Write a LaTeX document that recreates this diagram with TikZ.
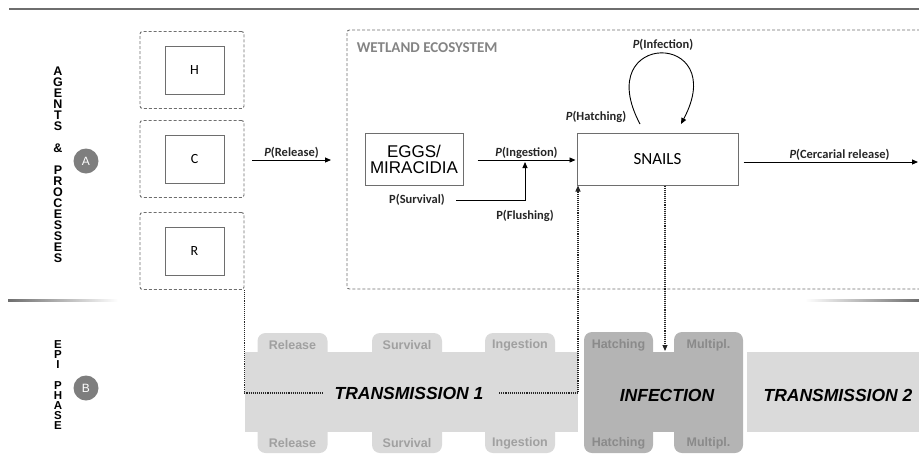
\documentclass[tikz,border=0pt]{standalone}
\usepackage{fontspec}
\setmainfont{Carlito}
\newfontfamily\arialf{Liberation Sans}
\usetikzlibrary{arrows.meta,positioning,calc}
\definecolor{lineg}{HTML}{6E6E6E}
\definecolor{bandg}{HTML}{DADADA}
\definecolor{infg}{HTML}{B4B4B4}
\definecolor{tabtxtg}{HTML}{A0A0A0}
\definecolor{inftxtg}{HTML}{8A8A8A}
\definecolor{circg}{HTML}{7E7E7E}

\begin{document}
\begin{tikzpicture}[x=1pt,y=-1pt,line width=0.9pt,
  dashbox/.style={draw=lineg,dash pattern=on 3pt off 2pt,rounded corners=2.5pt},
  solbox/.style={draw=lineg,line width=1pt,inner sep=0pt},
  arr/.style={-{Triangle[length=6pt,width=5pt]}},
  dotline/.style={densely dotted,line width=1.1pt,black!85},
  plab/.style={font=\bfseries\fontsize{12.5}{14}\selectfont,text=black!85,inner sep=1pt},
  tabtxt/.style={font=\arialf\bfseries\fontsize{12.5}{14}\selectfont,text=tabtxtg},
  bigtxt/.style={font=\arialf\bfseries\itshape\fontsize{17.5}{20}\selectfont},
  vtxt/.style={font=\arialf\bfseries\fontsize{12.5}{11}\selectfont,align=center,inner sep=0pt},
  badge/.style={circle,fill=circg,text=white,minimum size=25pt,inner sep=0pt,font=\arialf\fontsize{12}{14}\selectfont}]
\useasboundingbox (0,0) rectangle (919,456);

% frame lines
\draw[lineg,line width=1.2pt] (9,9) -- (919,9);
\shade[left color=lineg,right color=white] (8,299.3) rectangle (118,301);
\shade[left color=white,right color=lineg] (805,299.3) rectangle (919,301);

% side titles
\node[vtxt,anchor=north] (agtitle) at (58,66) {A\\G\\E\\N\\T\\S\\[11pt]\&\\[11pt]P\\R\\O\\C\\E\\S\\S\\E\\S};
\node[badge] (badgeA) at (86,161) {A};
\node[vtxt,anchor=north,font=\arialf\bfseries\fontsize{11.5}{10.2}\selectfont] (eptitle) at (58,340) {E\\P\\I\\[10.2pt]P\\H\\A\\S\\E};
\node[badge] (badgeB) at (86,388) {B};

% agents
\foreach \n/\y in {H/70,C/159,R/251}{
  \node[dashbox,minimum width=104pt,minimum height=77pt] (o\n) at (192,\y) {};
  \node[solbox,minimum width=59pt,minimum height=48pt,font=\fontsize{14}{16}\selectfont] (\n) at (194.5,\y) {\n};
}

% wetland
\draw[dashbox] (925,30) -- (347,30) -- (347,289) -- (925,289);
\node[anchor=west,text=lineg!85,font=\bfseries\fontsize{15}{18}\selectfont] (wetland) at (353,48) {WETLAND ECOSYSTEM};

\node[solbox,minimum width=98pt,minimum height=52pt,align=center,
  font=\arialf\fontsize{17}{16}\selectfont] (eggs) at (414,159) {EGGS/\\MIRACIDIA};
\node[solbox,minimum width=161pt,minimum height=52pt,
  font=\fontsize{17}{18}\selectfont] (snails) at (657.5,159) {SNAILS};

% release
\coordinate (rel0) at (252,160);
\coordinate (rel1) at (331,160);
\draw[arr] (rel0) -- (rel1) node[midway,above,plab]{\textit{P}(Release)};

% ingestion
\draw[arr] ([xshift=14pt,yshift=-1pt]eggs.east) -- ([xshift=-1pt,yshift=-1pt]snails.west)
  node[pos=0.5,above,plab]{\textit{P}(Ingestion)};
\node[plab] (surv) at (417,200) {P(Survival)};
\node[plab] (flush) at (525,216) {P(Flushing)};
\coordinate (ingj) at (525,162);
\draw[arr] ([xshift=10pt]surv.east) -| (ingj);

% infection loop
\coordinate (hatc) at (640,124);
\coordinate (infc) at (681,124);
\draw[arr] (hatc) .. controls +(-50,-94) and +(50,-94) .. (infc);
\node[plab] (pinf) at (663,45) {\textit{P}(Infection)};
\node[plab] (phat) at (596,117) {\textit{P}(Hatching)};

% cercarial release
\coordinate (cerc) at (918,162);
\draw[arr] (snails.east |- cerc) ++(5,0) -- (cerc)
  node[pos=0.55,above,plab]{\textit{P}(Cercarial release)};

% epi phases
\fill[bandg] (245,352) rectangle (578,432);
\foreach \x/\lab in {292.5/Release,407/Survival,520/Ingestion}{
  \fill[bandg,rounded corners=8pt] (\x-35,333) rectangle (\x+35,453);
  \node[tabtxt] (t\lab) at (\x,345) {\lab};
  \node[tabtxt] (b\lab) at (\x,443) {\lab};
}
\fill[infg] (584,352) rectangle (743,432);
\foreach \x/\lab in {618.5/Hatching,708.5/Multipl.}{
  \fill[infg,rounded corners=8pt] (\x-34.5,332) rectangle (\x+34.5,453);
  \node[tabtxt,text=inftxtg] (ti\x) at (\x,345) {\lab};
  \node[tabtxt,text=inftxtg] (bi\x) at (\x,443) {\lab};
}
\fill[bandg] (747,352) rectangle (925,432);

\node[bigtxt] (t1txt) at (409,393) {TRANSMISSION 1};
\node[bigtxt] (inftxt) at (667,395) {INFECTION};
\node[bigtxt] (t2txt) at (838,395) {TRANSMISSION 2};

% links
\draw[dotline] (oR.south east) |- ([xshift=-8pt]t1txt.west);
\draw[dotline,arr] ([xshift=12pt]t1txt.east) -| ([xshift=1.5pt]snails.south west);
\coordinate (inftop) at (665,351);
\draw[dotline,arr] (snails.south -| inftop) -- (inftop);
\end{tikzpicture}
\end{document}
